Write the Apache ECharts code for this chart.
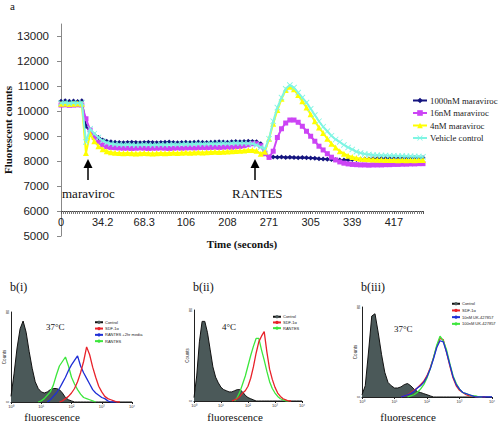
<!DOCTYPE html>
<html><head><meta charset="utf-8">
<script src="https://cdn.jsdelivr.net/npm/echarts@6/dist/echarts.min.js"></script>
<style>html,body{margin:0;padding:0;background:#fff}#c{width:498px;height:422px}</style>
</head><body><div id="c"></div>
<script>
// ---------- Panel a: calcium flux traces (one value per sample, 88 samples) ----------
const timeTickLabels = ['0','34.2','68.3','106','208','271','305','339','417'];
const seriesNames = ['1000nM maraviroc','16nM maraviroc','4nM maraviroc','Vehicle control'];
const mvc1000 = [10400,10420,10400,10410,10390,10420,
  9400,9200,9050,8950,8850,8800,8780,
  8760,8750,8740,8750,8760,8750,8740,8750,8760,8750,8740,8750,8760,8770,8750,8740,8750,8760,8750,8760,8770,8760,8750,8760,8770,8780,8770,8760,8780,8790,8780,8790,8800,8790,
  8780,8700,8300,8180,
  8170,8160,8170,8150,8160,8150,8140,8150,8140,8130,8120,
  8100,8090,8080,8070,8060,8050,8050,
  8060,8070,8070,8080,8090,8090,8100,8100,8110,8110,8120,8120,8130,8120,8130,8130,8140,8130,8140];
const mvc16 = [10250,10260,10240,10250,10260,10250,
  9700,9250,8950,8750,8650,8580,8550,
  8540,8530,8520,8520,8510,8520,8530,8520,8510,8520,8520,8530,8520,8510,8520,8530,8520,8530,8540,8530,8540,8550,8540,8550,8560,8550,8560,8570,8560,8580,8590,
  8620,8660,8700,8700,8620,8300,8150,8400,8950,9300,9530,9650,9650,9560,9400,9200,9000,8800,8600,8450,8300,8160,8050,7970,7920,7890,
  7870,7860,7850,7850,7840,7850,7850,7850,7860,7860,7870,7870,7880,7880,7890,7890,7900,7900];
const mvc4 = [10300,10310,10290,10300,10310,10300,
  8330,9100,8800,8600,8480,8400,8360,
  8340,8330,8320,8330,8320,8310,8320,8330,8320,8310,8320,8330,8320,8330,8340,8330,8340,8350,8340,8350,8360,8350,8360,8370,8380,8370,8380,8390,8400,8410,8420,
  8430,8450,8450,8420,8300,8380,8900,9500,10050,10500,10850,10980,10880,10650,10400,10150,9880,9600,9350,9130,8900,8700,8550,8400,8300,8220,8170,8130,
  8100,8090,8080,8070,8060,8060,8050,8050,8050,8040,8050,8040,8050,8040,8050,8050];
const vehicle = [10330,10350,10320,10340,10330,10350,
  8770,9300,9100,8950,8820,8740,8700,
  8680,8670,8660,8670,8660,8650,8660,8670,8660,8650,8660,8670,8660,8670,8680,8670,8680,8690,8680,8690,8700,8690,8700,8710,8700,8710,8720,8710,8720,8730,8720,
  8720,8710,8700,8650,8560,8500,8900,9600,10150,10550,10900,11050,10950,10750,10550,10350,10100,9850,9600,9380,9200,9020,8870,8770,8650,8550,8470,8380,8330,8290,8270,8250,
  8240,8230,8230,8220,8220,8210,8210,8200,8200,8190,8190,8180];

// ---------- Panels b: flow cytometry histograms (41 bins, 0.1 decade each) ----------
const _ = null;
const logTickLabels = ['10\u2070','10\u00b9','10\u00b2','10\u00b3','10\u2074'];
const bI_control  = [5,25,48,65,72,62,45,30,18,12,9,8,9,11,12,12,11,8,4,2,1,0,0,0,0,0,0,0,0,0,0,0,0,0,0,0,0,0,0,0,0];
const bI_sdf      = [_,_,_,_,_,_,_,_,_,_,_,_,_,_,_,_,0,1,3,5,8,12,18,26,36,49,42,31,22,14,9,5,3,2,1,0,0,_,_,_,_];
const bI_rantes2h = [_,_,_,_,_,_,_,_,_,_,_,_,0,2,5,8,12,17,22,28,33,37,41,32,26,21,16,11,8,6,4,3,1,0,0,0,_,_,_,_,_];
const bI_rantes   = [_,_,_,_,_,_,_,_,_,0,1,3,6,9,15,24,32,36,40,32,22,16,11,7,4,3,2,1,0,_,_,_,_,_,_,_,_,_,_,_,_];
const bII_control = [3,22,52,70,70,60,45,30,21,16,12,10,9,8,8,9,10,10,8,5,3,2,1,0,0,0,0,0,0,0,0,0,0,0,0,0,0,0,0,0,0];
const bII_sdf     = [_,_,_,_,_,_,_,_,_,_,_,_,_,_,0,1,2,4,7,9,13,20,30,42,52,57,61,43,28,19,12,7,4,2,1,0,0,_,_,_,_];
const bII_rantes  = [_,_,_,_,_,_,_,_,_,_,_,_,_,_,_,0,3,8,15,22,31,40,48,55,55,45,36,26,17,11,7,4,2,1,0,0,_,_,_,_,_];
const bIII_control= [2,10,40,72,74,57,38,22,13,10,8,8,9,11,12,10,7,5,4,3,2,1,0,0,0,0,0,0,0,0,0,0,0,0,0,0,0,0,0,0,0];
const bIII_sdf    = [_,_,_,_,_,_,_,_,_,_,_,_,0,1,2,4,6,8,11,14,19,26,35,45,52,51,40,28,17,10,6,4,2,1,1,0,0,0,0,_,_];
const bIII_uk10   = [_,_,_,_,_,_,_,_,_,_,_,_,0,1,2,3,5,8,10,13,18,25,34,44,50,49,40,29,18,11,7,4,3,2,1,0,0,0,0,0,0];
const bIII_uk100  = [_,_,_,_,_,_,_,_,_,_,_,_,_,_,0,1,2,4,7,11,17,25,35,46,54,50,42,30,19,12,7,4,3,2,1,1,0,0,_,_,_];

const SERIF = '"Liberation Serif", "Times New Roman", serif';
const SANS = '"Liberation Sans", Arial, sans-serif';
const pairs = arr => arr.map((v, i) => [i, v]);

const xSym = 'path://M0,1L1,0L5,4L9,0L10,1L6,5L10,9L9,10L5,6L1,10L0,9L4,5Z';
const traceColors = ['#14147f', '#cc44f5', '#ffff00', '#7ff5e3'];
const traceSymbols = ['diamond', 'rect', 'triangle', xSym];
const traceSizes = [5, 5, 6, 6];
const traces = [mvc1000, mvc16, mvc4, vehicle];

const C_CTRL = '#111111', F_CTRL = '#4b5959', C_RED = '#e8222a', C_BLUE = '#1f2fd6', C_GREEN = '#3ce63c';

const series = traces.map((arr, k) => ({
  name: seriesNames[k], type: 'line', xAxisIndex: 0, yAxisIndex: 0,
  data: pairs(arr), symbol: traceSymbols[k], symbolSize: traceSizes[k],
  itemStyle: { color: traceColors[k] }, lineStyle: { color: traceColors[k], width: 2 }, z: 2 + k
}));

function hist(name, arr, g, color, filled) {
  return {
    name, type: 'line', xAxisIndex: g, yAxisIndex: g, data: pairs(arr),
    symbol: 'none', connectNulls: false,
    lineStyle: { color, width: filled ? 1 : 1.3 }, itemStyle: { color: filled ? F_CTRL : color },
    areaStyle: filled ? { color: F_CTRL, opacity: 1 } : undefined, z: filled ? 1 : 3
  };
}
series.push(
  hist('Control', bI_control, 1, C_CTRL, true),
  hist('RANTES', bI_rantes, 1, C_GREEN),
  hist('RANTES +2hr media', bI_rantes2h, 1, C_BLUE),
  hist('SDF-1\u03b1', bI_sdf, 1, C_RED),
  hist('Control', bII_control, 2, C_CTRL, true),
  hist('RANTES', bII_rantes, 2, C_GREEN),
  hist('SDF-1\u03b1', bII_sdf, 2, C_RED),
  hist('Control', bIII_control, 3, C_CTRL, true),
  hist('SDF-1\u03b1', bIII_sdf, 3, C_RED),
  hist('100nM UK-427857', bIII_uk100, 3, C_GREEN),
  hist('10nM UK-427857', bIII_uk10, 3, C_BLUE)
);

function histX(g) {
  return { type: 'value', gridIndex: g, min: 0, max: 40, interval: 10,
    axisLine: { lineStyle: { color: '#222', width: 1 } },
    axisTick: { show: true, length: 2, lineStyle: { color: '#222' } },
    splitLine: { show: false },
    axisLabel: { fontSize: 4, fontFamily: SANS, color: '#333', margin: 2,
      formatter: v => (v % 10 === 0 ? logTickLabels[v / 10] : '') } };
}
function histY(g) {
  return { type: 'value', gridIndex: g, min: 0, max: 80, interval: 80,
    name: 'Counts', nameLocation: 'middle', nameGap: 4, nameMoveOverlap: false,
    nameTextStyle: { fontSize: 4.5, fontFamily: SANS, color: '#333' },
    axisLine: { show: true, lineStyle: { color: '#222', width: 1 } },
    axisTick: { show: false }, splitLine: { show: false },
    axisLabel: { fontSize: 4, fontFamily: SANS, color: '#333', margin: 2, rotate: 90 } };
}
function histLegend(left, top, data, gap) {
  return { data, orient: 'vertical', left, top, itemWidth: 8, itemHeight: 4, itemGap: gap,
    padding: 0, selectedMode: false,
    textStyle: { fontSize: 4, lineHeight: 4.5, fontFamily: SANS, color: '#222', padding: [0, 0, 0, -3] } };
}

const gtext = (text, x, y, size, opts = {}) => ({
  type: 'text', x, y, silent: true,
  style: Object.assign({ text, fontSize: size, fontFamily: SERIF, fill: '#111',
    textAlign: 'left', align: 'left', textVerticalAlign: 'middle', verticalAlign: 'middle' }, opts)
});
const arrow = (x) => ([
  { type: 'line', silent: true, shape: { x1: x, y1: 180, x2: x, y2: 167 }, style: { stroke: '#000', lineWidth: 1.5 } },
  { type: 'polygon', silent: true, shape: { points: [[x - 4.5, 168], [x + 4.5, 168], [x, 159]] }, style: { fill: '#000' } }
]);

const gridBase = { outerBoundsMode: 'none', containLabel: false };
const option = {
  animation: false,
  backgroundColor: '#fff',
  grid: [
    Object.assign({ left: 61, top: 24, width: 362, height: 212 }, gridBase),
    Object.assign({ left: 11, top: 312, width: 121, height: 90 }, gridBase),
    Object.assign({ left: 194, top: 310, width: 108, height: 91 }, gridBase),
    Object.assign({ left: 362, top: 307, width: 130, height: 90 }, gridBase)
  ],
  xAxis: [
    { type: 'value', gridIndex: 0, min: 0, max: 87, interval: 10, offset: -25,
      name: 'Time (seconds)', nameLocation: 'middle', nameGap: 27, nameMoveOverlap: false,
      nameTextStyle: { fontFamily: SERIF, fontWeight: 'bold', fontSize: 11, color: '#111' },
      axisLine: { lineStyle: { color: '#444', width: 1 } },
      axisTick: { show: true, length: 3, lineStyle: { color: '#555' } },
      minorTick: { show: true, splitNumber: 20, length: 3, lineStyle: { color: '#777' } },
      splitLine: { show: false }, minorSplitLine: { show: false },
      axisLabel: { fontFamily: SANS, fontSize: 11, color: '#222', margin: 5,
        formatter: v => (v % 10 === 0 ? timeTickLabels[v / 10] : '') } },
    histX(1), histX(2), histX(3)
  ],
  yAxis: [
    { type: 'value', gridIndex: 0, min: 5000, max: 13500, interval: 1000, offset: 4,
      name: 'Fluorescent counts', nameLocation: 'middle', nameGap: 44, nameMoveOverlap: false,
      nameTextStyle: { fontFamily: SERIF, fontWeight: 'bold', fontSize: 11, color: '#111' },
      axisLine: { show: true, lineStyle: { color: '#888', width: 1 } },
      axisTick: { show: true, length: 4, lineStyle: { color: '#888' } },
      splitLine: { show: false },
      axisLabel: { fontFamily: SANS, fontSize: 11.5, color: '#222', margin: 8, showMaxLabel: false,
        formatter: v => String(v) } },
    histY(1), histY(2), histY(3)
  ],
  legend: [
    { data: seriesNames, orient: 'vertical', left: 412, top: 96, itemWidth: 14, itemHeight: 7, itemGap: 3.5,
      padding: 0, selectedMode: false,
      textStyle: { fontFamily: SERIF, fontSize: 8.8, lineHeight: 9, color: '#222', padding: [0, 0, 0, -2] } },
    histLegend(94, 320, ['Control', 'SDF-1\u03b1', 'RANTES +2hr media', 'RANTES'], 1.8),
    histLegend(272, 314.5, ['Control', 'SDF-1\u03b1', 'RANTES'], 1.2),
    histLegend(451, 301.5, ['Control', 'SDF-1\u03b1', '10nM UK-427857', '100nM UK-427857'], 2.2)
  ],
  graphic: [
    gtext('a', 10, 6, 11),
    gtext('maraviroc', 62, 193, 13),
    gtext('RANTES', 232, 193, 13),
    ...arrow(88), ...arrow(255),
    gtext('b(i)', 10, 287, 12),
    gtext('b(ii)', 193, 287, 12),
    gtext('b(iii)', 361, 287, 12),
    gtext('37\u00b0C', 46, 327, 9),
    gtext('4\u00b0C', 222, 327, 9),
    gtext('37\u00b0C', 394, 329, 9),
    gtext('fluorescence', 52, 417, 11, { textAlign: 'center', align: 'center' }),
    gtext('fluorescence', 235, 417, 11, { textAlign: 'center', align: 'center' }),
    gtext('fluorescence', 408, 417, 11, { textAlign: 'center', align: 'center' })
  ],
  series
};
const chart = echarts.init(document.getElementById('c'), null, { renderer: 'svg' });
chart.setOption(option);
</script>
</body></html>
